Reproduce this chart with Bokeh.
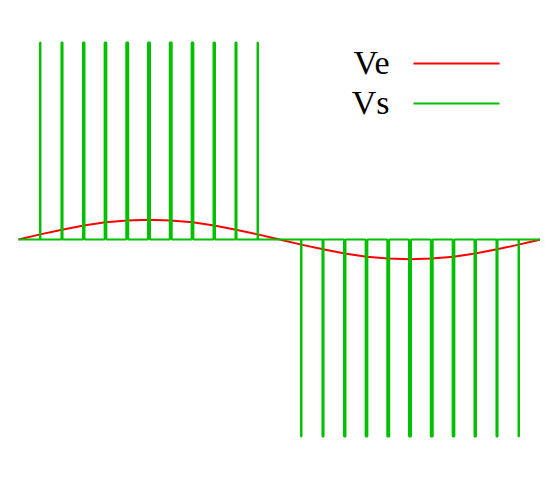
from bokeh.plotting import figure
from bokeh.models import Range1d, Label, Arrow
from bokeh.embed import file_html
from bokeh.resources import INLINE

# Ve: reference sine sampled once per carrier period (24 periods over the window)
ve_t = list(range(25))
ve_v = [0.0, 0.026, 0.050, 0.071, 0.087, 0.097, 0.100, 0.097, 0.087, 0.071, 0.050, 0.026,
        0.0, -0.026, -0.050, -0.071, -0.087, -0.097, -0.100, -0.097, -0.087, -0.071, -0.050, -0.026, 0.0]

# Vs: PWM pulses (centre, width in carrier periods, level)
pulse_center = [1, 2, 3, 4, 5, 6, 7, 8, 9, 10, 11,
                13, 14, 15, 16, 17, 18, 19, 20, 21, 22, 23]
pulse_width = [0.02, 0.05, 0.07, 0.08, 0.09, 0.09, 0.09, 0.08, 0.07, 0.05, 0.02,
               0.02, 0.05, 0.07, 0.08, 0.09, 0.09, 0.09, 0.08, 0.07, 0.05, 0.02]
pulse_level = [1] * 11 + [-1] * 11
t_start, t_end = 0, 24

vs_t = [t_start]
vs_v = [0]
for c, w, lv in zip(pulse_center, pulse_width, pulse_level):
    vs_t += [c - w / 2, c - w / 2, c + w / 2, c + w / 2]
    vs_v += [0, lv, lv, 0]
vs_t.append(t_end)
vs_v.append(0)

W, H = 540, 464
p = figure(width=W, height=H, output_backend="svg", toolbar_location=None,
           x_range=Range1d(-18 / 21.75, 24 + 0 / 21.75),
           y_range=Range1d(-1 - 28 / 197, 1 + 42 / 197),
           min_border=0)
p.axis.visible = False
p.grid.visible = False
p.outline_line_color = None
p.background_fill_color = "white"
p.border_fill_color = "white"

p.line(ve_t, ve_v, line_color="#ff0000", line_width=2)
p.line(vs_t, vs_v, line_color="#00c000", line_width=2)

font = "Liberation Serif"
p.add_layout(Label(x=389, y=402, x_units="screen", y_units="screen", text="Ve",
                   text_align="right", text_baseline="alphabetic",
                   text_font=font, text_font_size="34px", text_color="black"))
p.add_layout(Label(x=389, y=362, x_units="screen", y_units="screen", text="Vs",
                   text_align="right", text_baseline="alphabetic",
                   text_font=font, text_font_size="34px", text_color="black"))
p.add_layout(Arrow(end=None, x_start=413, y_start=401, x_end=499, y_end=401,
                   start_units="screen", end_units="screen",
                   line_color="#ff0000", line_width=2))
p.add_layout(Arrow(end=None, x_start=413, y_start=361, x_end=499, y_end=361,
                   start_units="screen", end_units="screen",
                   line_color="#00c000", line_width=2))

open("out.html", "w").write(file_html(p, INLINE))
